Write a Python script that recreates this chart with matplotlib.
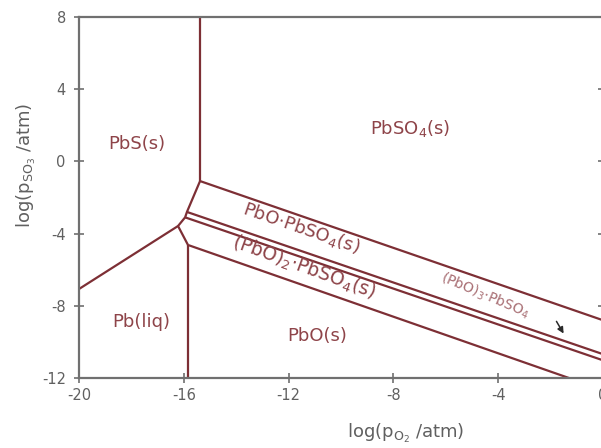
"""Predominance diagram for the Pb-S-O system (log p_SO3 vs log p_O2)."""

import matplotlib
matplotlib.use("Agg")
import matplotlib.pyplot as plt


LINE_COLOR = "#7d2f35"
TEXT_COLOR = "#8e4449"
AXIS_COLOR = "#707070"

# phase boundaries, each as (x values, y values) in log units
pbs_pbso4_x = [-15.38, -15.38]
pbs_pbso4_y = [8.0, -1.09]

pbs_oxysulfate_x = [-15.38, -15.88, -15.95, -16.22, -15.84]
pbs_oxysulfate_y = [-1.09, -2.80, -3.10, -3.58, -4.63]

pbliq_pbs_x = [-20.0, -16.22]
pbliq_pbs_y = [-7.07, -3.58]

pbliq_pbo_x = [-15.84, -15.84]
pbliq_pbo_y = [-4.63, -12.0]

pbso4_band_x = [-15.38, 0.0]
pbso4_band_y = [-1.09, -8.80]

band_a_x = [-15.88, 0.0]
band_a_y = [-2.80, -10.68]

band_b_x = [-15.95, 0.0]
band_b_y = [-3.10, -11.02]

pbo_band_x = [-15.84, -1.30]
pbo_band_y = [-4.63, -12.0]

boundaries = [
    (pbs_pbso4_x, pbs_pbso4_y),
    (pbs_oxysulfate_x, pbs_oxysulfate_y),
    (pbliq_pbs_x, pbliq_pbs_y),
    (pbliq_pbo_x, pbliq_pbo_y),
    (pbso4_band_x, pbso4_band_y),
    (band_a_x, band_a_y),
    (band_b_x, band_b_y),
    (pbo_band_x, pbo_band_y),
]

# region labels: text, x, y, rotation, size
region_labels = [
    ("PbS(s)", -17.79, 0.96, 0, 13),
    (r"PbSO$_4$(s)", -7.37, 1.80, 0, 13),
    ("Pb(liq)", -17.63, -8.90, 0, 13),
    ("PbO(s)", -10.92, -9.67, 0, 13),
    (r"PbO$\cdot$PbSO$_4$(s)", -11.53, -3.69, -19, 13),
    (r"(PbO)$_2$$\cdot$PbSO$_4$(s)", -11.40, -5.85, -20, 13.5),
]

small_label = (r"(PbO)$_3$$\cdot$PbSO$_4$", -4.50, -7.45, -23, 10)
arrow_start = (-1.83, -8.73)
arrow_end = (-1.45, -9.67)

x_ticks = [-20, -16, -12, -8, -4, 0]
y_ticks = [-12, -8, -4, 0, 4, 8]


plt.rcParams["axes.unicode_minus"] = False
plt.rcParams["mathtext.default"] = "regular"

fig = plt.figure(figsize=(6.01, 4.48), dpi=100)
ax = fig.add_axes([79 / 601, 70 / 448, 524 / 601, 361 / 448])

for xs, ys in boundaries:
    ax.plot(xs, ys, color=LINE_COLOR, linewidth=1.6, solid_capstyle="butt")

for text, x, y, rot, size in region_labels:
    ax.text(x, y, text, color=TEXT_COLOR, fontsize=size, rotation=rot,
            rotation_mode="anchor", ha="center", va="center")

text, x, y, rot, size = small_label
ax.text(x, y, text, color="#a86e73", fontsize=size, rotation=rot,
        rotation_mode="anchor", ha="center", va="center")
ax.annotate("", xy=arrow_end, xytext=arrow_start,
            arrowprops=dict(arrowstyle="-|>", color="#2a2a2a", lw=1.1,
                            mutation_scale=9))

ax.set_xlim(-20, 0)
ax.set_ylim(-12, 8)
ax.set_xticks(x_ticks)
ax.set_yticks(y_ticks)

for side in ("left", "bottom", "top", "right"):
    ax.spines[side].set_color(AXIS_COLOR)
    ax.spines[side].set_linewidth(1.6)

ax.tick_params(axis="both", direction="inout", length=7, width=1.2,
               colors=AXIS_COLOR, labelcolor="#606060", labelsize=10.5)
ax.tick_params(axis="y", right=True, pad=6)
ax.tick_params(axis="x", pad=4)

fig.text(406 / 601, 1 - 433 / 448, r"log(p$_{O_2}$ /atm)", color="#606060",
         fontsize=13, ha="center", va="center")
fig.text(26 / 601, 1 - 165 / 448, r"log(p$_{SO_3}$ /atm)", color="#606060",
         fontsize=13, ha="center", va="center", rotation=90)

fig.savefig("out.png", dpi=100)
